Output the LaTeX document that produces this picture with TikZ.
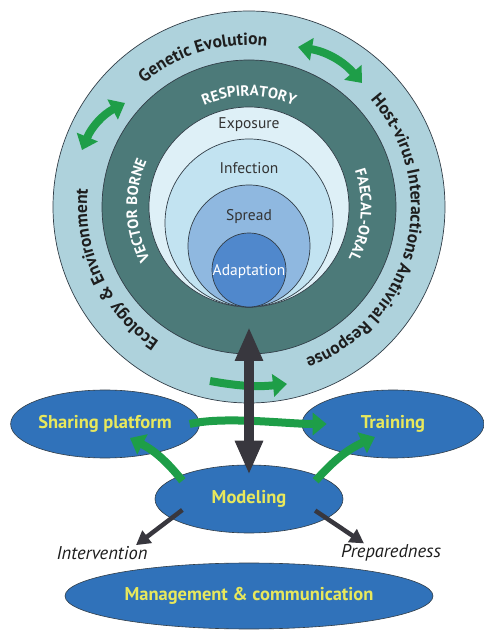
\documentclass[tikz,border=0pt]{standalone}
\usepackage{fontspec}
\setmainfont{PT Sans}
\usetikzlibrary{shapes.geometric, arrows.meta, decorations.text, positioning}

\definecolor{ringlight}{RGB}{174,210,220}
\definecolor{ringdark}{RGB}{76,122,121}
\definecolor{expo}{RGB}{222,240,247}
\definecolor{infec}{RGB}{194,227,241}
\definecolor{sprd}{RGB}{143,184,224}
\definecolor{adapt}{RGB}{80,136,204}
\definecolor{ovalblue}{RGB}{48,114,186}
\definecolor{labyellow}{RGB}{232,232,92}
\definecolor{arrgreen}{RGB}{30,158,72}
\definecolor{arrdark}{RGB}{56,55,62}
\definecolor{edge}{RGB}{50,62,72}
\definecolor{ink}{RGB}{30,30,30}

\newcommand{\fsz}[1]{\fontsize{#1}{#1}\selectfont}

\tikzset{
  oval/.style={ellipse, draw=edge, line width=0.6pt, fill=ovalblue, inner sep=0pt,
    minimum height=68pt, text=labyellow, font=\fsz{18.5}\bfseries},
  stage/.style={draw=edge, line width=0.7pt},
  stagelabel/.style={font=\fsz{15.5}, text=black!80},
  outcome/.style={font=\fsz{18.5}\itshape, text=ink, inner sep=1pt},
  greenarr/.style={draw=arrgreen, line width=8pt, -{Triangle[width=22pt,length=14pt]}},
  greenboth/.style={greenarr, {Triangle[width=22pt,length=14pt]}-{Triangle[width=22pt,length=14pt]}},
  darkarr/.style={draw=arrdark, line width=4.5pt, -{Triangle[width=15pt,length=14pt]}},
  mainarr/.style={draw=arrdark, line width=10pt,
    {Triangle[width=26pt,length=34pt]}-{Triangle[width=26pt,length=34pt]}},
}

\begin{document}
\begin{tikzpicture}[x=1pt, y=1pt]
  \useasboundingbox (0,0) rectangle (483,630);
  \fill[white] (0,0) rectangle (483,630);
  \coordinate (c) at (249,423);

  \draw[stage, fill=ringlight] (c) circle[radius=196pt];
  \draw[stage, fill=ringdark] (c) circle[radius=147pt];
  \draw[stage, fill=expo] (c) circle[radius=100pt];
  \draw[stage, fill=infec] (249,407) circle[radius=84pt];
  \draw[stage, fill=sprd] (249,384) circle[radius=61pt];
  \draw[stage, fill=adapt] (249,360) circle[radius=37pt];

  \node[stagelabel] (expl) at (249,505) {Exposure};
  \node[stagelabel] (infl) at (249,462) {Infection};
  \node[stagelabel] (sprl) at (249,413) {Spread};
  \node[stagelabel, text=white] (adal) at (249,358) {Adaptation};

  \path[shift={(c)}, decorate, decoration={text along path, text align=center,
      text={|\fsz{15}\bfseries\color{white}|RESPIRATORY}}]
    (140:111pt) arc[start angle=140, end angle=40, radius=111pt];
  \path[shift={(c)}, decorate, decoration={text along path, text align=center,
      text={|\fsz{15}\bfseries\color{white}|VECTOR BORNE}}]
    (230:112pt) arc[start angle=230, end angle=134, radius=112pt];
  \path[shift={(c)}, decorate, decoration={text along path, text align=center,
      text={|\fsz{15}\bfseries\color{white}|FAECAL-ORAL}}]
    (44:112pt) arc[start angle=44, end angle=-52, radius=112pt];

  \path[shift={(c)}, decorate, decoration={text along path, text align=center,
      text={|\fsz{17.5}\bfseries\color{ink}|Genetic Evolution}}]
    (160:162pt) arc[start angle=160, end angle=54, radius=162pt];
  \path[shift={(c)}, decorate, decoration={text along path, text align=center,
      text={|\fsz{17.5}\bfseries\color{ink}|Host-virus Interactions Antiviral Response}}]
    (62:162pt) arc[start angle=62, end angle=-90, radius=162pt];
  \path[shift={(c)}, decorate, decoration={text along path, text align=center,
      text={|\fsz{17.5}\bfseries\color{ink}|Ecology {\&} Environment}}]
    (255:162pt) arc[start angle=255, end angle=155, radius=162pt];

  \node[oval, minimum width=188pt] (model) at (249,131) {Modeling};
  \node[oval, minimum width=186pt] (share) at (105,206) {Sharing platform};
  \node[oval, minimum width=182pt] (train) [right=102pt of share] {Training};
  \node[oval, minimum width=368pt, minimum height=66pt] (mgmt) at (249,34) {Management \& communication};
  \node[outcome] (interv) at (102,77) {Intervention};
  \node[outcome] (prep) at (391,77) {Preparedness};
  \coordinate (hub) at (249,303);

  \draw[greenboth] (298,583) to[bend left=20] (362,547);
  \draw[greenboth] (82,480) to[bend left=20] (125,527);
  \draw[greenarr] (210,249) to[bend right=8] (287,246);
  \draw[greenarr] ([xshift=-10pt]share.east) .. controls +(35pt,8pt) and +(-40pt,0pt) .. ([xshift=25pt]train.west);
  \draw[greenarr] ([yshift=-6pt]model.160) to[bend right=12] ([shift={(25pt,-14pt)}]share.center);
  \draw[greenarr] ([yshift=-6pt]model.20) to[bend left=12] ([shift={(-18pt,-13pt)}]train.center);

  \draw[mainarr] (hub) -- ([yshift=-10pt]model.north);
  \draw[darkarr, shorten <=-14pt] (model.194) -- ([xshift=34pt]interv.north);
  \draw[darkarr, shorten <=-14pt] (model.-14) -- ([xshift=-27pt]prep.north);
\end{tikzpicture}
\end{document}
